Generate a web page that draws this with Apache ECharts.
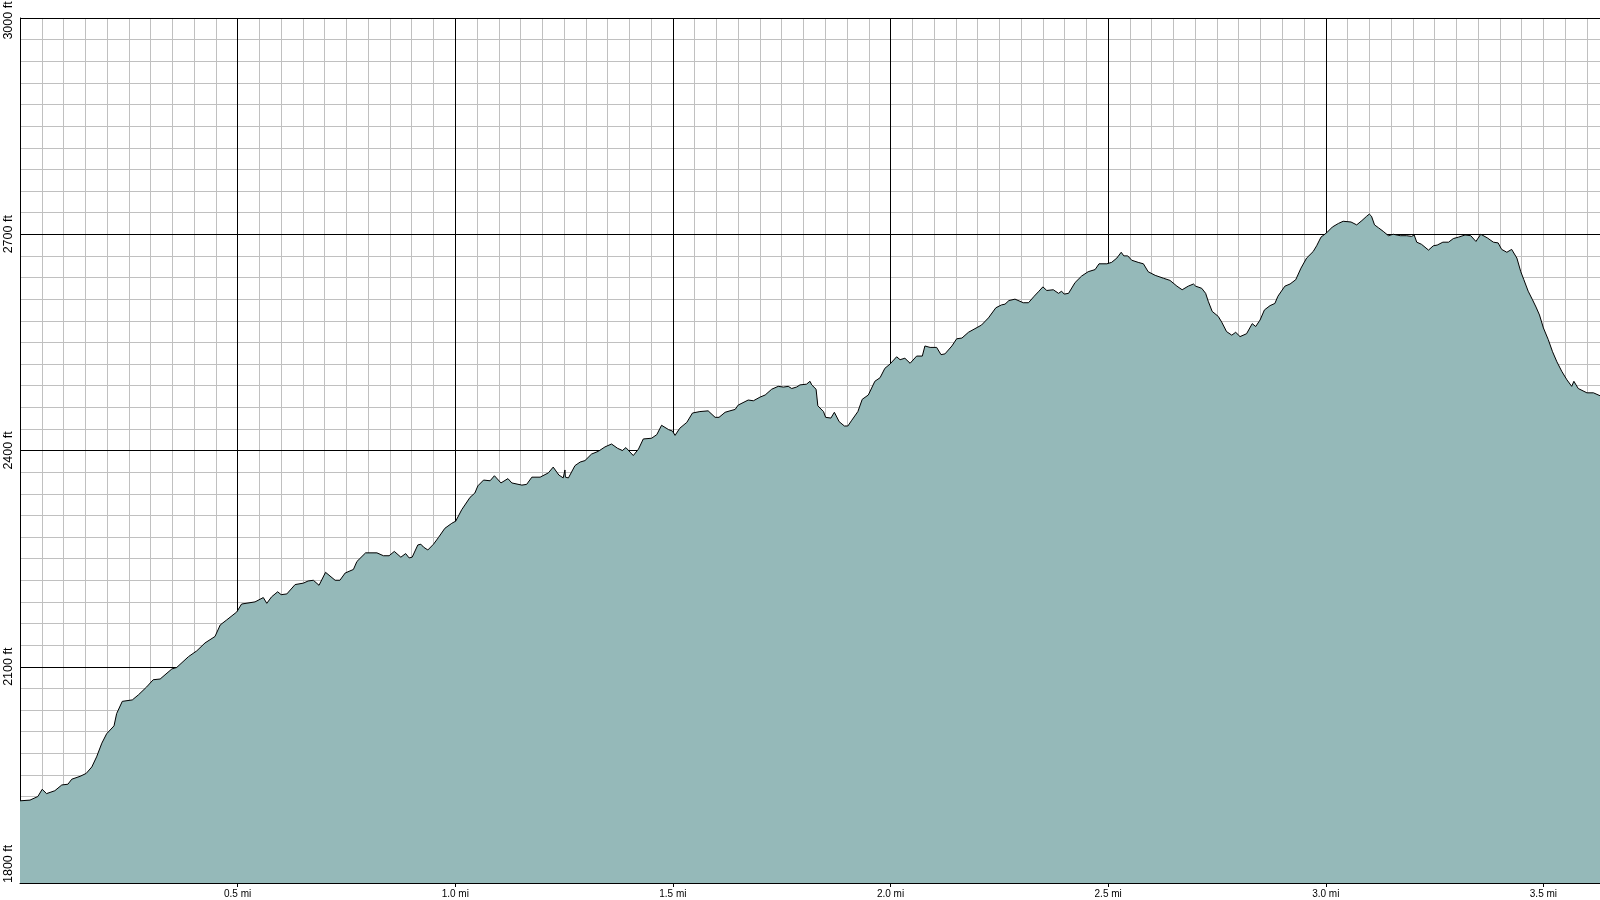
<!DOCTYPE html>
<html>
<head>
<meta charset="utf-8">
<style>
html,body{margin:0;padding:0;background:#fff;}
#chart{width:1600px;height:900px;}
</style>
<script src="https://cdn.jsdelivr.net/npm/echarts@6/dist/echarts.min.js"></script>
</head>
<body>
<div id="chart"></div>
<script>
// Distance along the trail (mi)
const distanceMi = [
0,0.023,0.041,0.051,0.061,0.080,0.096,0.110,0.119,0.138,0.152,0.165,0.176,0.188,0.199,0.216,0.222,0.235,0.258,0.272,0.291,0.306,0.322,0.349,0.360,0.387,0.406,0.425,0.448,0.460,0.475,0.498,0.509,0.540,0.559,
0.567,0.578,0.592,0.600,0.613,0.632,0.651,0.662,0.674,0.687,0.702,0.724,0.735,0.747,0.766,0.774,0.794,0.820,0.835,0.848,0.860,0.875,0.886,0.894,0.901,0.914,0.921,0.927,0.937,0.950,0.961,0.976,0.992,1.001,1.015,1.034,1.045,1.052,1.065,1.080,1.090,1.105,
1.121,1.130,1.153,1.164,1.176,1.195,1.214,1.225,1.238,1.248,1.252,1.253,1.260,1.275,1.287,1.298,1.313,1.329,1.344,1.359,1.373,1.384,1.392,1.409,1.421,1.432,1.451,1.463,1.474,1.490,1.499,1.505,1.516,1.532,1.545,1.562,1.581,1.597,1.606,1.620,1.631,1.643,1.650,
1.673,1.685,1.700,1.712,1.727,1.742,1.754,1.765,1.773,1.784,1.792,1.807,1.815,1.819,1.829,1.833,1.846,1.851,1.863,1.871,1.882,1.894,1.902,1.911,1.925,1.935,1.949,1.964,1.976,1.987,1.999,2.014,2.022,2.033,2.045,2.060,2.073,2.079,2.091,2.106,2.116,2.125,2.141,2.152,2.164,2.179,2.194,2.209,
2.225,2.242,2.255,2.263,2.272,2.286,2.305,2.317,2.330,2.341,2.350,2.359,2.374,2.378,2.386,2.393,2.399,2.409,2.424,2.439,2.454,2.470,2.479,2.497,2.508,2.520,2.530,2.536,2.545,2.554,2.569,2.581,2.592,2.608,2.627,2.642,2.658,2.670,2.684,2.696,2.701,2.715,2.724,2.730,2.739,2.753,
2.761,2.772,2.784,2.793,2.803,2.818,2.831,2.839,2.849,2.859,2.872,2.883,2.890,2.906,2.918,2.931,2.943,2.956,2.971,2.979,2.989,3.002,3.015,3.029,3.040,3.058,3.071,3.083,3.094,3.100,3.105,3.112,3.121,3.132,3.144,3.155,3.171,
3.186,3.197,3.203,3.209,3.220,3.236,3.247,3.256,3.269,3.282,3.293,3.305,3.320,3.333,3.345,3.356,3.371,3.385,3.396,3.404,3.416,3.427,3.439,3.448,3.455,3.465,3.475,3.483,3.491,3.500,3.511,3.521,3.531,3.542,3.554,3.565,3.570,3.580,3.600,3.615,3.630
];
// Elevation (ft)
const elevationFt = [
1914,1915,1920,1930,1924,1928,1936,1937,1944,1948,1952,1961,1975,1994,2007,2018,2035,2052,2054,2061,2072,2082,2083,2097,2099,2114,2122,2133,2142,2158,2165,2176,2187,2190,2196,
2188,2197,2204,2200,2201,2214,2216,2219,2220,2213,2231,2220,2220,2230,2235,2246,2258,2258,2254,2254,2260,2252,2257,2251,2252,2269,2270,2266,2262,2270,2279,2292,2299,2302,2318,2335,2341,2351,2359,2358,2365,2355,
2361,2355,2352,2353,2363,2363,2369,2377,2366,2362,2373,2363,2362,2379,2384,2386,2395,2399,2405,2409,2403,2400,2404,2393,2402,2416,2417,2422,2435,2429,2427,2421,2431,2439,2452,2454,2455,2446,2446,2453,2455,2457,2463,
2470,2469,2474,2477,2485,2489,2488,2489,2486,2488,2491,2492,2496,2491,2485,2462,2454,2446,2445,2453,2440,2434,2434,2442,2454,2471,2477,2496,2501,2514,2520,2530,2526,2528,2521,2531,2531,2545,2543,2543,2533,2534,2545,2555,2556,2564,2569,2574,
2584,2598,2602,2603,2608,2610,2605,2605,2614,2621,2627,2622,2623,2624,2618,2621,2617,2618,2633,2642,2648,2651,2659,2659,2661,2667,2675,2670,2670,2664,2661,2659,2648,2643,2639,2636,2628,2623,2628,2631,2628,2625,2618,2607,2593,2586,
2578,2565,2560,2564,2558,2562,2576,2572,2581,2595,2601,2604,2614,2628,2631,2637,2653,2667,2676,2684,2696,2702,2710,2715,2718,2717,2713,2719,2725,2728,2725,2713,2709,2704,2698,2700,2698,
2698,2697,2699,2689,2686,2678,2684,2685,2689,2689,2694,2696,2699,2698,2690,2700,2695,2689,2688,2679,2675,2679,2667,2648,2637,2621,2609,2599,2588,2570,2554,2537,2523,2510,2498,2489,2496,2486,2480,2480,2476
];
// Axis ticks
const xTickValues = [0.5, 1.0, 1.5, 2.0, 2.5, 3.0, 3.5];
const xTickLabels = ['0.5 mi', '1.0 mi', '1.5 mi', '2.0 mi', '2.5 mi', '3.0 mi', '3.5 mi'];
const yTickValues = [1800, 2100, 2400, 2700, 3000];
const yTickLabels = ['1800 ft', '2100 ft', '2400 ft', '2700 ft', '3000 ft'];

const X_MIN = 0, X_MAX = 3.63, Y_MIN = 1800, Y_MAX = 3000;

const profile = distanceMi.map((d, i) => [d, elevationFt[i]]);

const chart = echarts.init(document.getElementById('chart'), null, {renderer: 'canvas'});
const font = 'Liberation Sans, Arial, sans-serif';
chart.setOption({
  animation: false,
  backgroundColor: '#ffffff',
  grid: {left: 20, right: 0, top: 18, bottom: 17, containLabel: false, outerBoundsMode: 'none'},
  xAxis: [
    {
      type: 'value', min: X_MIN, max: X_MAX, interval: 0.5, z: 1,
      axisLine: {show: true, onZero: false, lineStyle: {color: '#000', width: 1}},
      axisTick: {show: true, length: 4, customValues: xTickValues, lineStyle: {color: '#000'}},
      axisLabel: {
        show: true, margin: 6, fontSize: 10, color: '#000', fontFamily: font,
        customValues: xTickValues,
        formatter: v => { const i = xTickValues.findIndex(t => Math.abs(t - v) < 1e-6); return i >= 0 ? xTickLabels[i] : ''; }
      },
      splitLine: {show: true, showMinLine: true, showMaxLine: false, lineStyle: {color: '#000', width: 1}}
    },
    {
      type: 'value', min: X_MIN, max: X_MAX, interval: 0.05, z: 0, position: 'bottom',
      axisLine: {show: false}, axisTick: {show: false}, axisLabel: {show: false},
      splitLine: {show: true, showMaxLine: false, lineStyle: {color: '#c0c0c0', width: 1}}
    }
  ],
  yAxis: [
    {
      type: 'value', min: Y_MIN, max: Y_MAX, interval: 300, z: 1,
      axisLine: {show: true, onZero: false, lineStyle: {color: '#000', width: 1}},
      axisTick: {show: false},
      axisLabel: {
        show: true, rotate: 90, margin: 5, fontSize: 12.5, color: '#000', fontFamily: font,
        alignMinLabel: 'left', alignMaxLabel: 'center',
        rich: {top: {fontSize: 12.5, color: '#000', fontFamily: font, padding: [0, 5, 0, 0]}},
        formatter: v => {
          const i = yTickValues.indexOf(Math.round(v));
          if (i < 0) return '';
          return i === yTickValues.length - 1 ? '{top|' + yTickLabels[i] + '}' : yTickLabels[i];
        }
      },
      splitLine: {show: true, lineStyle: {color: '#000', width: 1}}
    },
    {
      type: 'value', min: Y_MIN, max: Y_MAX, interval: 30, z: 0, position: 'left',
      axisLine: {show: false}, axisTick: {show: false}, axisLabel: {show: false},
      splitLine: {show: true, lineStyle: {color: '#c0c0c0', width: 1}}
    }
  ],
  series: [{
    type: 'line',
    xAxisIndex: 0, yAxisIndex: 0,
    data: profile,
    showSymbol: false,
    symbol: 'none',
    z: 3,
    lineStyle: {color: '#000', width: 1},
    areaStyle: {color: '#95b9b9', opacity: 1, origin: 'start'}
  }]
});
</script>
</body>
</html>
